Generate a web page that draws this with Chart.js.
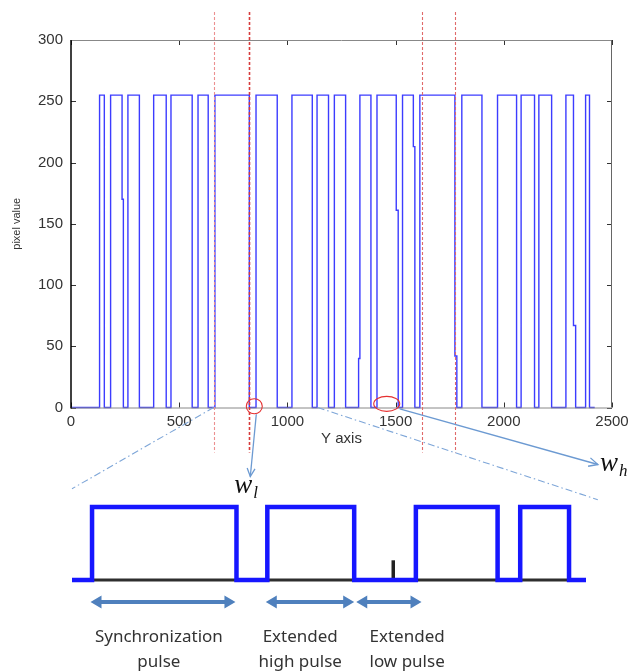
<!DOCTYPE html>
<html>
<head>
<meta charset="utf-8">
<script src="https://cdn.jsdelivr.net/npm/chart.js@4.4.1/dist/chart.umd.min.js"></script>
<style>
  html, body { margin: 0; padding: 0; background: #fff; }
  #wrap { position: relative; width: 640px; height: 672px; }
  canvas { position: absolute; left: 0; top: 0; }
</style>
</head>
<body>
<div id="wrap">
  <canvas id="signalChart" width="640" height="672"></canvas>
  <canvas id="pulseChart" width="640" height="672"></canvas>
</div>
<script>
// top plot: pixel value along the Y axis, given as edge position -> level after the edge
const edgeX = [0, 132, 154, 183, 236, 242, 263, 316, 382, 440, 462, 560, 587, 634, 665, 824,
  855, 953, 1021, 1115, 1137, 1190, 1217, 1269, 1329, 1335, 1386, 1414, 1503, 1512, 1532,
  1582, 1589, 1612, 1774, 1783, 1806, 1899, 1971, 2059, 2080, 2142, 2162, 2221, 2287, 2322,
  2332, 2378, 2396, 2420];
const edgeLevel = [0, 255, 0, 255, 170, 0, 255, 0, 255, 0, 255, 0, 255, 0, 255, 0,
  255, 0, 255, 0, 255, 0, 255, 0, 40, 255, 0, 255, 161, 0, 255,
  213, 0, 255, 42, 0, 255, 0, 255, 0, 255, 0, 255, 0, 255, 67,
  0, 255, 0, 0];
const xTicks = [0, 500, 1000, 1500, 2000, 2500];
const yTicks = [0, 50, 100, 150, 200, 250, 300];
const guideX = [659, 822, 1620, 1774];        // red dashed lines
const circleX = [847, 1459];                   // red circles on the baseline
const circleY = [1, 3];

// bottom schematic (arbitrary units, level 0 = low, 1 = high)
const pulseX = [0, 3.9, 32, 38, 54.9, 66.9, 82.8, 87.2, 96.7, 100];
const pulseLevel = [0, 1, 0, 1, 0, 1, 0, 1, 0, 0];
const spikeX = 62.5;
const spikeLevel = 0.27;
const spanStart = [3.6, 37.7, 55.3];
const spanEnd = [31.8, 54.9, 68.0];
const spanLabels = [["Synchronization", "pulse"], ["Extended", "high pulse"], ["Extended", "low pulse"]];
const labelX = [16.9, 44.4, 65.2];

const sans = "'Liberation Sans', Arial, sans-serif";

function seg(ctx, x1, y1, x2, y2) {
  ctx.beginPath();
  ctx.moveTo(x1, y1);
  ctx.lineTo(x2, y2);
  ctx.stroke();
}

function openArrow(ctx, x1, y1, x2, y2, len) {
  const ang = Math.atan2(y2 - y1, x2 - x1);
  seg(ctx, x1, y1, x2, y2);
  ctx.beginPath();
  ctx.moveTo(x2 - len * Math.cos(ang - 0.45), y2 - len * Math.sin(ang - 0.45));
  ctx.lineTo(x2, y2);
  ctx.lineTo(x2 - len * Math.cos(ang + 0.45), y2 - len * Math.sin(ang + 0.45));
  ctx.stroke();
}

function mathLabel(ctx, x, y, sub) {
  ctx.fillStyle = '#111';
  ctx.textBaseline = 'alphabetic';
  ctx.textAlign = 'left';
  ctx.font = "italic 27px 'Liberation Serif', 'DejaVu Serif', serif";
  ctx.fillText('w', x, y);
  const w = ctx.measureText('w').width;
  ctx.font = "italic 17px 'Liberation Serif', 'DejaVu Serif', serif";
  ctx.fillText(sub, x + w + 1, y + 5);
}

const signalOverlay = {
  id: 'signalOverlay',
  afterDatasetsDraw(chart) {
    const { ctx, chartArea: a } = chart;
    const x = chart.scales.x, y = chart.scales.y;
    ctx.save();

    // inward tick marks, matlab style
    ctx.strokeStyle = '#333';
    ctx.lineWidth = 1;
    xTicks.forEach(v => {
      const px = Math.round(x.getPixelForValue(v)) + 0.5;
      seg(ctx, px, a.bottom, px, a.bottom - 5);
      seg(ctx, px, a.top, px, a.top + 5);
    });
    yTicks.forEach(v => {
      const py = Math.round(y.getPixelForValue(v)) + 0.5;
      seg(ctx, a.left, py, a.left + 5, py);
      seg(ctx, a.right, py, a.right - 5, py);
    });

    // box
    ctx.strokeStyle = '#888';
    seg(ctx, a.left, a.top + 0.5, a.right, a.top + 0.5);
    seg(ctx, a.left, a.bottom + 0.5, a.right, a.bottom + 0.5);
    ctx.strokeStyle = '#666';
    seg(ctx, a.right - 0.5, a.top, a.right - 0.5, a.bottom);
    ctx.strokeStyle = '#000';
    ctx.lineWidth = 1.5;
    seg(ctx, a.left, a.top, a.left, a.bottom + 1);

    // red dashed guides
    const guideColor = ['#ec9090', '#d63a3a', '#e06a6a', '#e06a6a'];
    ctx.setLineDash([3, 2]);
    guideX.forEach((v, i) => {
      const px = Math.round(x.getPixelForValue(v)) + 0.5;
      ctx.strokeStyle = guideColor[i];
      ctx.lineWidth = i === 1 ? 1.6 : 1.1;
      seg(ctx, px, a.top - 28, px, a.bottom + 45);
    });
    ctx.setLineDash([]);

    // red circles
    ctx.strokeStyle = '#e53030';
    ctx.lineWidth = 1.1;
    const rx = [8, 13];
    const c = circleX.map((v, i) => ({ x: x.getPixelForValue(v), y: y.getPixelForValue(circleY[i]) }));
    c.forEach((p, i) => {
      ctx.beginPath();
      ctx.ellipse(p.x, p.y, rx[i], 7.5, 0, 0, Math.PI * 2);
      ctx.stroke();
    });

    // arrows to the width symbols
    ctx.strokeStyle = '#6c9ad2';
    ctx.lineWidth = 1.3;
    openArrow(ctx, c[0].x + 2, c[0].y + 8, c[0].x - 4, a.bottom + 69, 9);
    openArrow(ctx, c[1].x + 13, c[1].y + 5, x.getPixelForValue(2435), a.bottom + 57, 10);
    mathLabel(ctx, c[0].x - 20, a.bottom + 85, 'l');
    mathLabel(ctx, x.getPixelForValue(2445), a.bottom + 63, 'h');

    ctx.restore();
  }
};

const signalChart = new Chart(document.getElementById('signalChart'), {
  type: 'line',
  data: {
    datasets: [{
      data: edgeX.map((v, i) => ({ x: v, y: edgeLevel[i] })),
      stepped: true,
      borderColor: '#3c3cff',
      borderWidth: 1.4,
      pointRadius: 0,
      fill: false,
      clip: false
    }]
  },
  options: {
    responsive: false,
    animation: false,
    events: [],
    layout: { padding: { left: 0, top: 40, right: 28, bottom: 224.5 } },
    plugins: { legend: { display: false }, tooltip: { enabled: false } },
    scales: {
      x: {
        type: 'linear',
        min: 0,
        max: 2500,
        afterBuildTicks: s => { s.ticks = xTicks.map(v => ({ value: v })); },
        afterFit: s => { s.height = 40; },
        grid: { display: false, drawTicks: false },
        border: { display: false },
        ticks: { font: { family: sans, size: 15 }, color: '#333', padding: 5, maxRotation: 0, callback: v => String(v) },
        title: { display: true, text: 'Y axis', font: { family: sans, size: 15 }, color: '#333', padding: { top: 0, bottom: 0 } }
      },
      y: {
        min: 0,
        max: 300,
        afterBuildTicks: s => { s.ticks = yTicks.map(v => ({ value: v })); },
        afterFit: s => { s.width = 71; },
        grid: { display: false, drawTicks: false },
        border: { display: false },
        ticks: { font: { family: sans, size: 15 }, color: '#333', padding: 8, callback: v => String(v) },
        title: { display: true, text: 'pixel value', font: { family: sans, size: 11 }, color: '#333', padding: { top: 10, bottom: 0 } }
      }
    }
  },
  plugins: [signalOverlay]
});

// black bottoms under each high pulse
const pulseBottoms = [];
for (let i = 1; i < pulseX.length; i++) {
  if (pulseLevel[i] === 1) {
    pulseBottoms.push({ x: pulseX[i], y: 0 }, { x: pulseX[i + 1], y: 0 }, { x: pulseX[i + 1], y: null });
  }
}

const pulseOverlay = {
  id: 'pulseOverlay',
  afterDatasetsDraw(chart) {
    const { ctx } = chart;
    const x = chart.scales.x, y = chart.scales.y;
    const tx = signalChart.scales.x, ty = signalChart.scales.y;
    ctx.save();

    // dash-dot zoom connectors from the top plot
    ctx.strokeStyle = '#7ea6d8';
    ctx.lineWidth = 1.1;
    ctx.setLineDash([7, 3, 1.5, 3]);
    seg(ctx, tx.getPixelForValue(guideX[0]), ty.getPixelForValue(0), x.getPixelForValue(0), y.getPixelForValue(1.25));
    seg(ctx, tx.getPixelForValue(1140), ty.getPixelForValue(0), x.getPixelForValue(102.3), y.getPixelForValue(1.1));
    ctx.setLineDash([]);

    // double headed span arrows
    const ay = y.getPixelForValue(-0.3);
    ctx.strokeStyle = '#4f80bd';
    ctx.fillStyle = '#4f80bd';
    ctx.lineWidth = 4;
    spanStart.forEach((s, i) => {
      const x1 = x.getPixelForValue(s), x2 = x.getPixelForValue(spanEnd[i]);
      seg(ctx, x1 + 8, ay, x2 - 8, ay);
      ctx.beginPath();
      ctx.moveTo(x1, ay); ctx.lineTo(x1 + 11, ay - 6.5); ctx.lineTo(x1 + 11, ay + 6.5); ctx.closePath();
      ctx.moveTo(x2, ay); ctx.lineTo(x2 - 11, ay - 6.5); ctx.lineTo(x2 - 11, ay + 6.5); ctx.closePath();
      ctx.fill();
    });

    // span labels
    ctx.fillStyle = '#333';
    ctx.font = "17px 'Noto Sans', 'Open Sans', sans-serif";
    ctx.textAlign = 'center';
    ctx.textBaseline = 'middle';
    spanLabels.forEach((lines, i) => {
      const lx = x.getPixelForValue(labelX[i]);
      ctx.fillText(lines[0], lx, y.getPixelForValue(-0.78));
      ctx.fillText(lines[1], lx, y.getPixelForValue(-1.12));
    });
    ctx.restore();
  }
};

const pulseChart = new Chart(document.getElementById('pulseChart'), {
  type: 'line',
  data: {
    datasets: [
      {
        data: pulseX.map((v, i) => ({ x: v, y: pulseLevel[i] })),
        stepped: true,
        borderColor: '#1616ff',
        borderWidth: 4.5,
        borderJoinStyle: 'miter',
        pointRadius: 0,
        fill: false,
        clip: false
      },
      {
        data: pulseBottoms,
        borderColor: '#2e2e2e',
        borderWidth: 3,
        pointRadius: 0,
        spanGaps: false,
        fill: false,
        clip: false
      },
      {
        data: [{ x: spikeX, y: 0 }, { x: spikeX, y: spikeLevel }],
        borderColor: '#222',
        borderWidth: 3.5,
        pointRadius: 0,
        fill: false,
        clip: false
      }
    ]
  },
  options: {
    responsive: false,
    animation: false,
    events: [],
    layout: { padding: { left: 72, right: 54, top: 507, bottom: 92 } },
    plugins: { legend: { display: false }, tooltip: { enabled: false } },
    scales: {
      x: { type: 'linear', display: false, min: 0, max: 100 },
      y: { display: false, min: 0, max: 1 }
    }
  },
  plugins: [pulseOverlay]
});
</script>
</body>
</html>
